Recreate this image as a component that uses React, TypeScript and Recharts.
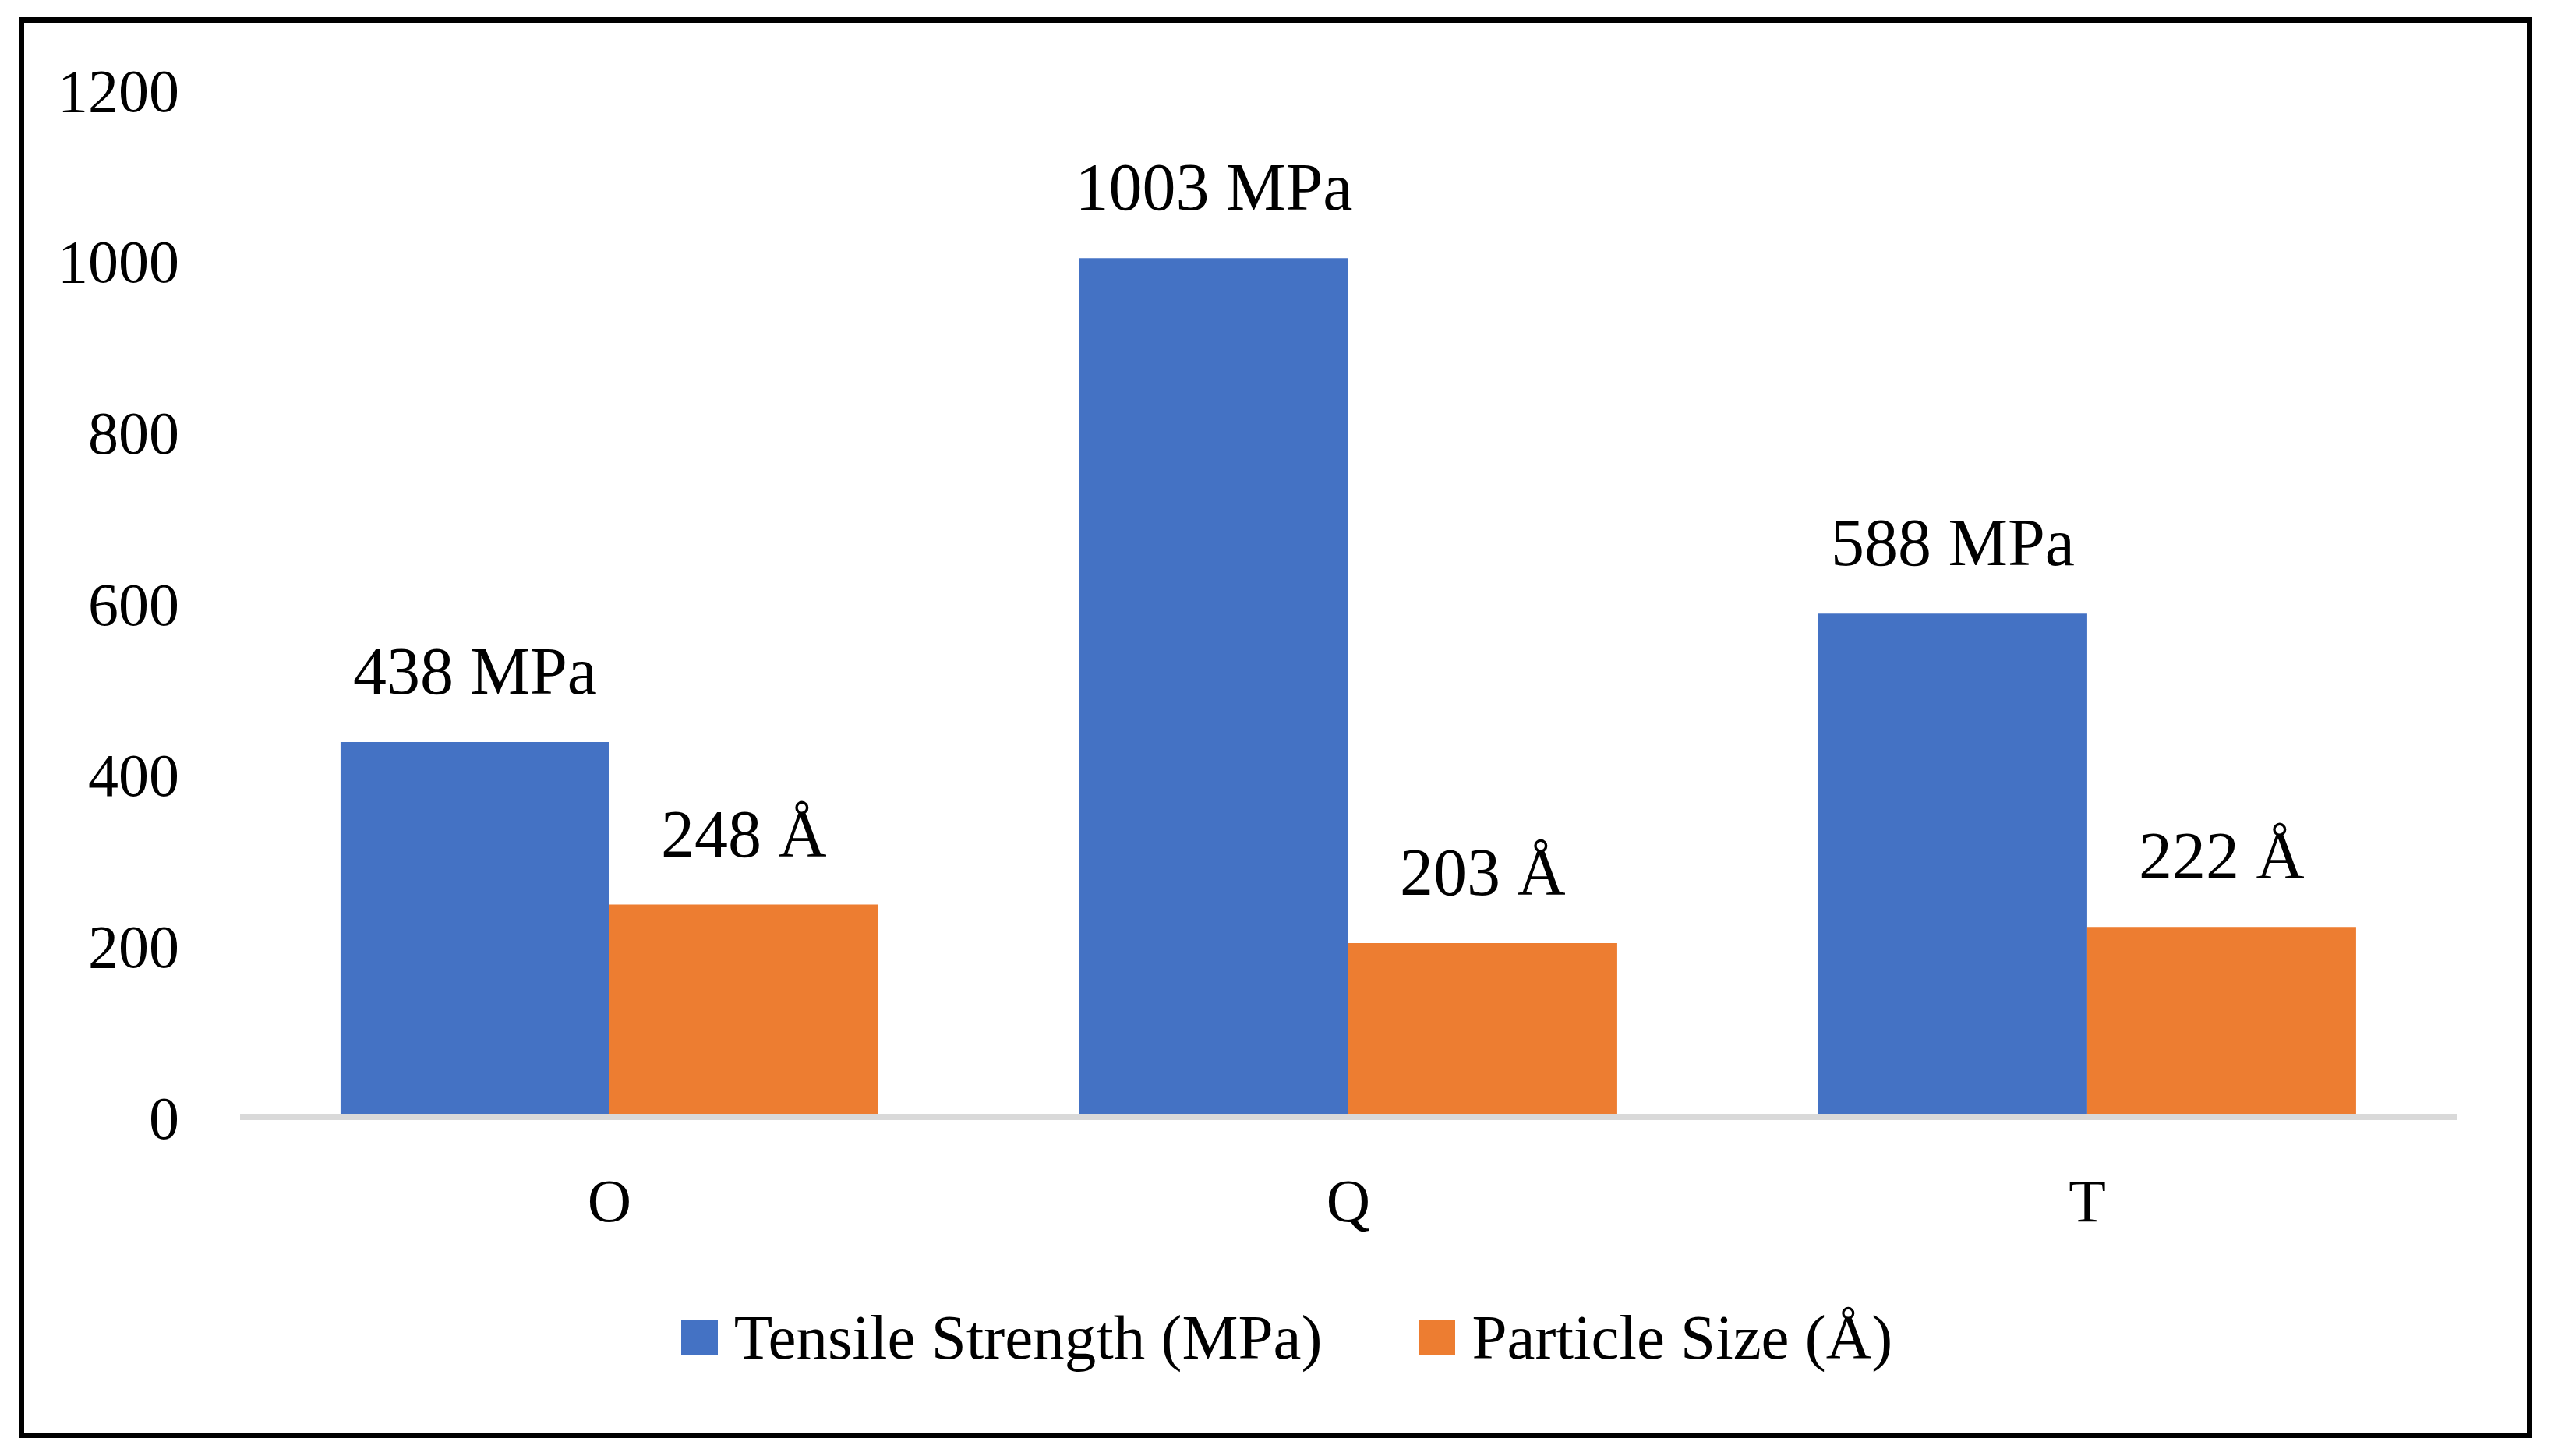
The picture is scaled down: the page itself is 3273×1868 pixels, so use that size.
import { BarChart, Bar, XAxis, YAxis, Legend, LabelList } from "recharts";

const categories = ["O", "Q", "T"];
const tensileStrength = [438, 1003, 588];
const particleSize = [248, 203, 222];
const yTicks = [0, 200, 400, 600, 800, 1000, 1200];

const seriesNames = ["Tensile Strength (MPa)", "Particle Size (Å)"];
const seriesColors = ["#4472C4", "#ED7D31"];

const FONT = "'Liberation Serif', 'Times New Roman', serif";

const data = categories.map((name, i) => ({
  name,
  tensile: tensileStrength[i],
  particle: particleSize[i],
}));

function LegendContent() {
  return (
    <div
      style={{
        height: 100,
        display: "flex",
        alignItems: "center",
        justifyContent: "center",
        paddingLeft: 150,
        fontFamily: FONT,
        fontSize: 81,
        color: "#000",
      }}
    >
      {seriesNames.map((label, i) => (
        <div
          key={label}
          style={{ display: "flex", alignItems: "center", marginLeft: i === 0 ? 0 : 124 }}
        >
          <div style={{ width: 47, height: 46, background: seriesColors[i], marginRight: 21 }} />
          <span style={{ lineHeight: "100px" }}>{label}</span>
        </div>
      ))}
    </div>
  );
}

export default function App() {
  return (
    <div
      style={{
        position: "absolute",
        left: 0,
        top: 0,
        width: 3273,
        height: 1868,
        background: "#fff",
      }}
    >
      <div
        style={{
          position: "absolute",
          left: 24,
          top: 22,
          width: 3225,
          height: 1823,
          border: "7px solid #000",
          boxSizing: "border-box",
        }}
      />
      <div style={{ position: "absolute", left: 0, top: 0 }}>
        <BarChart
          width={3273}
          height={1868}
          data={data}
          margin={{ top: 115, right: 121, bottom: 102, left: 0 }}
          barCategoryGap="13.6%"
          barGap={0}
        >
          <YAxis
            width={308}
            domain={[0, 1200]}
            ticks={yTicks}
            interval={0}
            axisLine={false}
            tickLine={false}
            tickSize={0}
            tickMargin={78}
            tick={{ fill: "#000", fontSize: 78, fontFamily: FONT }}
          />
          <XAxis
            dataKey="name"
            height={233}
            axisLine={{ stroke: "#D9D9D9", strokeWidth: 8 }}
            tickLine={false}
            tickSize={0}
            tickMargin={79}
            tick={{ fill: "#000", fontSize: 78, fontFamily: FONT }}
          />
          <Legend verticalAlign="bottom" content={<LegendContent />} />
          <Bar dataKey="tensile" name={seriesNames[0]} fill={seriesColors[0]} isAnimationActive={false}>
            <LabelList
              dataKey="tensile"
              position="top"
              offset={62}
              formatter={(v: number) => `${v} MPa`}
              style={{ fill: "#000", fontSize: 86, fontFamily: FONT }}
            />
          </Bar>
          <Bar dataKey="particle" name={seriesNames[1]} fill={seriesColors[1]} isAnimationActive={false}>
            <LabelList
              dataKey="particle"
              position="top"
              offset={62}
              formatter={(v: number) => `${v} Å`}
              style={{ fill: "#000", fontSize: 86, fontFamily: FONT }}
            />
          </Bar>
        </BarChart>
      </div>
    </div>
  );
}
